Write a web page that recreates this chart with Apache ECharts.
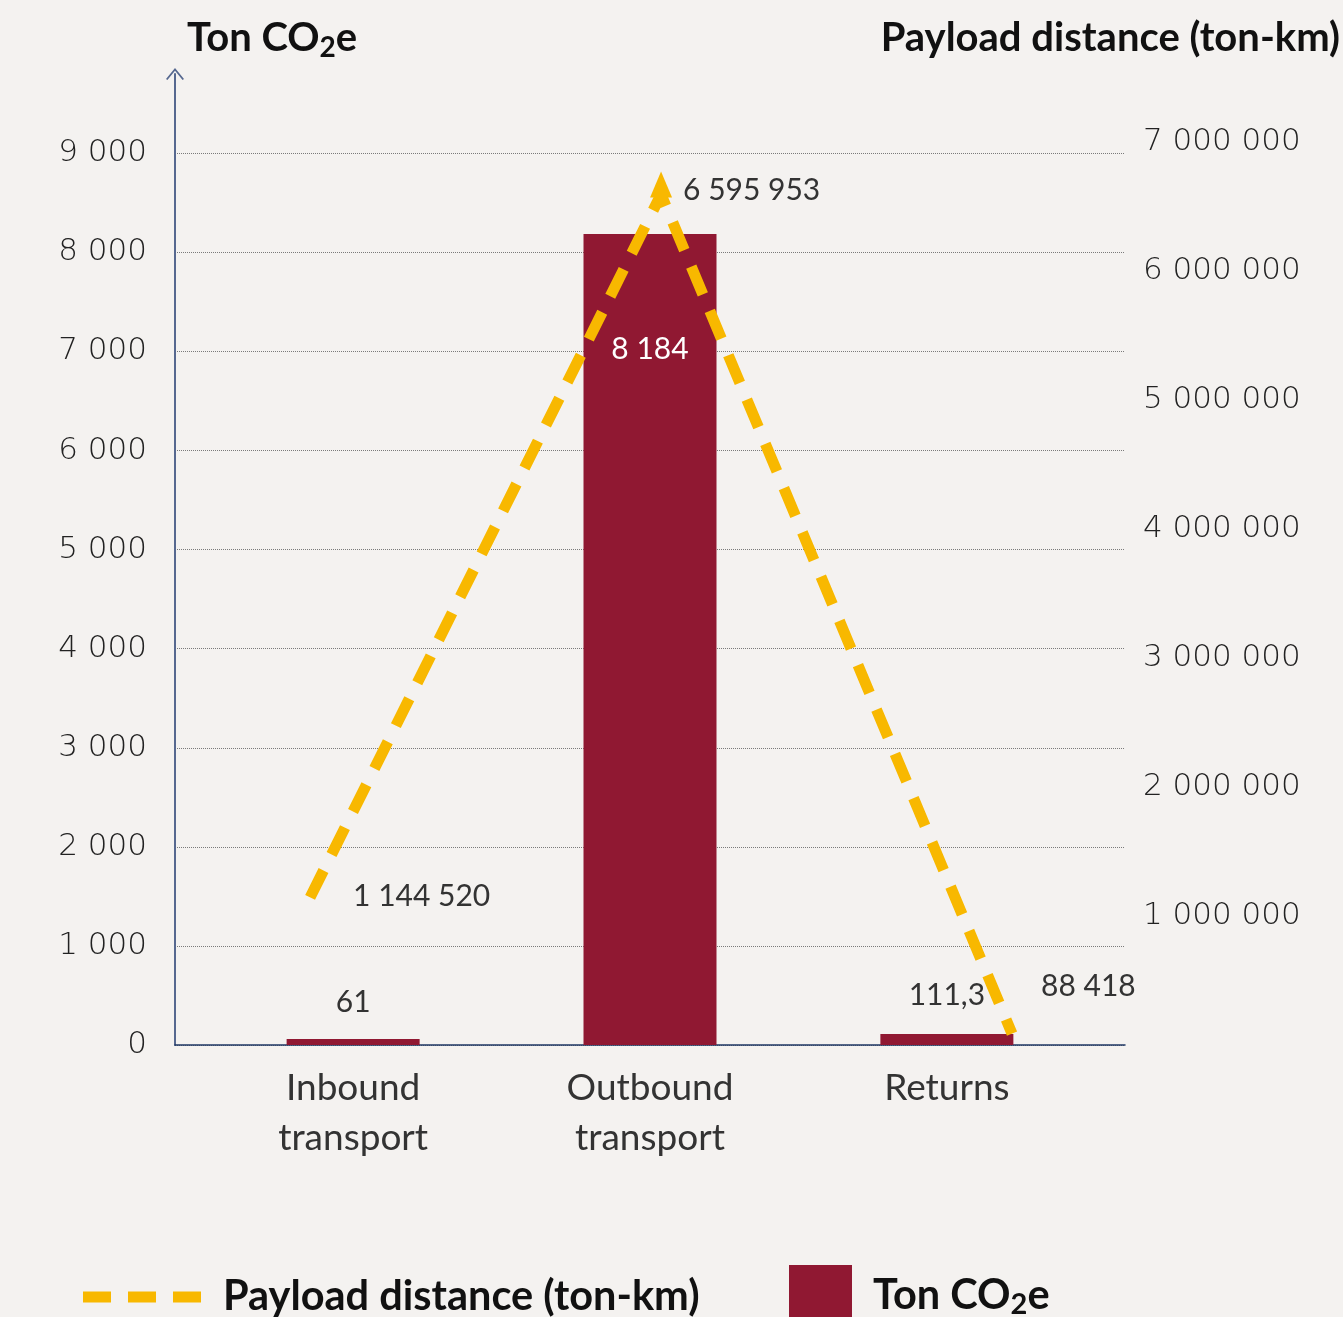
<!DOCTYPE html>
<html>
<head>
<meta charset="utf-8">
<script src="https://cdn.jsdelivr.net/npm/echarts@6/dist/echarts.min.js"></script>
<style>
  html, body { margin: 0; padding: 0; background: #f4f2f0; }
  #chart { width: 1343px; height: 1317px; }
</style>
</head>
<body>
<div id="chart"></div>
<script>
// Transport emissions and payload distance per flow
const categories = ['Inbound\ntransport', 'Outbound\ntransport', 'Returns'];
const tonCO2e = [61, 8184, 111.3];
const payloadTonKm = [1144520, 6595953, 88418];

const FONT = 'Lato';
const TICK_FONT = 'DejaVu Sans';
const BAR_COLOR = '#901832';
const LINE_COLOR = '#f8b800';
const TEXT = '#333333';

// "8184" -> "8 184", "111.3" -> "111,3"
function fmt(v) {
  const parts = String(v).split('.');
  const intPart = parts[0].replace(/\B(?=(\d{3})+(?!\d))/g, ' ');
  return parts.length > 1 ? intPart + ',' + parts[1] : intPart;
}

// label placement for each bar
const barLabelCfg = [
  { position: 'top', distance: 22, color: TEXT },
  { position: 'insideTop', distance: 100, color: '#ffffff' },
  { position: 'top', distance: 24, color: TEXT }
];
// label placement for each point of the distance line
const lineLabelCfg = [
  { position: 'right', distance: 43, offset: [0, -1] },
  { position: 'right', distance: 11, offset: [0, 6] },
  { position: 'right', distance: 29, offset: [0, -47] }
];

const barData = tonCO2e.map((v, i) => ({
  value: [i, v],
  label: Object.assign({ show: true, fontFamily: FONT, fontSize: 30, formatter: () => fmt(v) }, barLabelCfg[i])
}));

const peak = Math.max.apply(null, payloadTonKm);
const lineData = payloadTonKm.map((v, i) => {
  const item = {
    value: [i, v],
    label: Object.assign({ show: true, color: TEXT, fontFamily: FONT, fontSize: 30, formatter: () => fmt(v) }, lineLabelCfg[i])
  };
  if (v === peak) {
    // arrow head on the highest point
    item.symbol = 'triangle';
    item.symbolSize = [22, 26];
    item.symbolOffset = [0, -10];
  }
  return item;
});

const smallTwo = { fontFamily: FONT, fontSize: 28, fontWeight: 'bold', color: '#111111', verticalAlign: 'bottom', lineHeight: 46 };
const titleStyle = {
  fontFamily: FONT, fontSize: 40, fontWeight: 'bold', color: '#111111', lineHeight: 48,
  rich: { s: smallTwo }
};
const legendText = {
  fontFamily: FONT, fontSize: 41.5, fontWeight: 'bold', color: '#111111', padding: [0, 0, 0, 16],
  rich: { s: Object.assign({}, smallTwo, { fontSize: 29 }) }
};

const chart = echarts.init(document.getElementById('chart'));
chart.setOption({
  backgroundColor: '#f4f2f0',
  animation: false,
  title: [
    { text: 'Ton CO{s|2}e', left: 187, top: 14, padding: 0, textStyle: titleStyle },
    { text: 'Payload distance (ton-km)', right: 3, top: 14, padding: 0, textStyle: titleStyle }
  ],
  legend: [
    {
      data: ['Payload distance (ton-km)'],
      left: 83, top: 1276, padding: 0,
      itemWidth: 120, itemHeight: 11,
      icon: 'path://M0,0H28V11H0Z M45,0H73V11H45Z M90,0H118V11H90Z',
      itemStyle: { color: LINE_COLOR },
      textStyle: legendText
    },
    {
      data: ['Ton CO2e'],
      left: 789, top: 1265, padding: 0,
      itemWidth: 63, itemHeight: 62,
      icon: 'rect',
      formatter: () => 'Ton CO{s|2}e',
      textStyle: legendText
    }
  ],
  grid: { left: 175, right: 218, top: 74, bottom: 1317 - 1045, containLabel: false },
  xAxis: [
    {
      type: 'value',
      min: -0.6, max: 2.6,
      axisLine: { onZero: false, lineStyle: { color: '#1f3864', width: 1.5 } },
      axisTick: { show: false },
      splitLine: { show: false },
      axisLabel: {
        customValues: [0, 1, 2],
        formatter: (v) => categories[Math.round(v)] || '',
        fontFamily: FONT, fontSize: 37, color: '#333333', lineHeight: 50, margin: 18
      }
    },
    {
      type: 'value',
      min: -0.385, max: 2.322,
      show: false
    }
  ],
  yAxis: [
    {
      type: 'value',
      min: 0, max: 9800, interval: 1000,
      axisLine: {
        show: true, onZero: false,
        lineStyle: { color: '#56688f', width: 2 },
        symbol: ['none', 'path://M0,11 L9,0 L18,11 L16.6,11.9 L9,2.6 L1.4,11.9 Z'],
        symbolSize: [18, 12]
      },
      axisTick: { show: false },
      splitLine: { show: true, showMaxLine: false, lineStyle: { color: '#7a7a7a', type: 'dotted', width: 1 } },
      axisLabel: {
        showMaxLabel: false,
        formatter: (v) => (v % 1000 === 0 ? fmt(v) : ''),
        fontFamily: TICK_FONT, fontSize: 31, fontWeight: 200, color: '#222222', margin: 28,
        padding: [6, 0, 0, 0]
      }
    },
    {
      type: 'value',
      position: 'right',
      min: 0, max: 7530000, interval: 1000000,
      axisLine: { show: false },
      axisTick: { show: false },
      splitLine: { show: false },
      axisLabel: {
        showMaxLabel: false,
        formatter: (v) => (v > 0 && v % 1000000 === 0 ? fmt(v) : ''),
        fontFamily: TICK_FONT, fontSize: 31, fontWeight: 200, color: '#222222', margin: 18,
        padding: [6, 0, 0, 0]
      }
    }
  ],
  series: [
    {
      name: 'Ton CO2e',
      type: 'bar',
      xAxisIndex: 0, yAxisIndex: 0,
      barWidth: 133,
      itemStyle: { color: BAR_COLOR },
      data: barData
    },
    {
      name: 'Payload distance (ton-km)',
      type: 'line',
      xAxisIndex: 1, yAxisIndex: 1,
      symbol: 'circle',
      symbolSize: 0,
      showSymbol: true,
      lineStyle: { color: LINE_COLOR, width: 11, type: [30, 18], cap: 'butt' },
      itemStyle: { color: LINE_COLOR },
      data: lineData,
      z: 3
    }
  ]
});
</script>
</body>
</html>
